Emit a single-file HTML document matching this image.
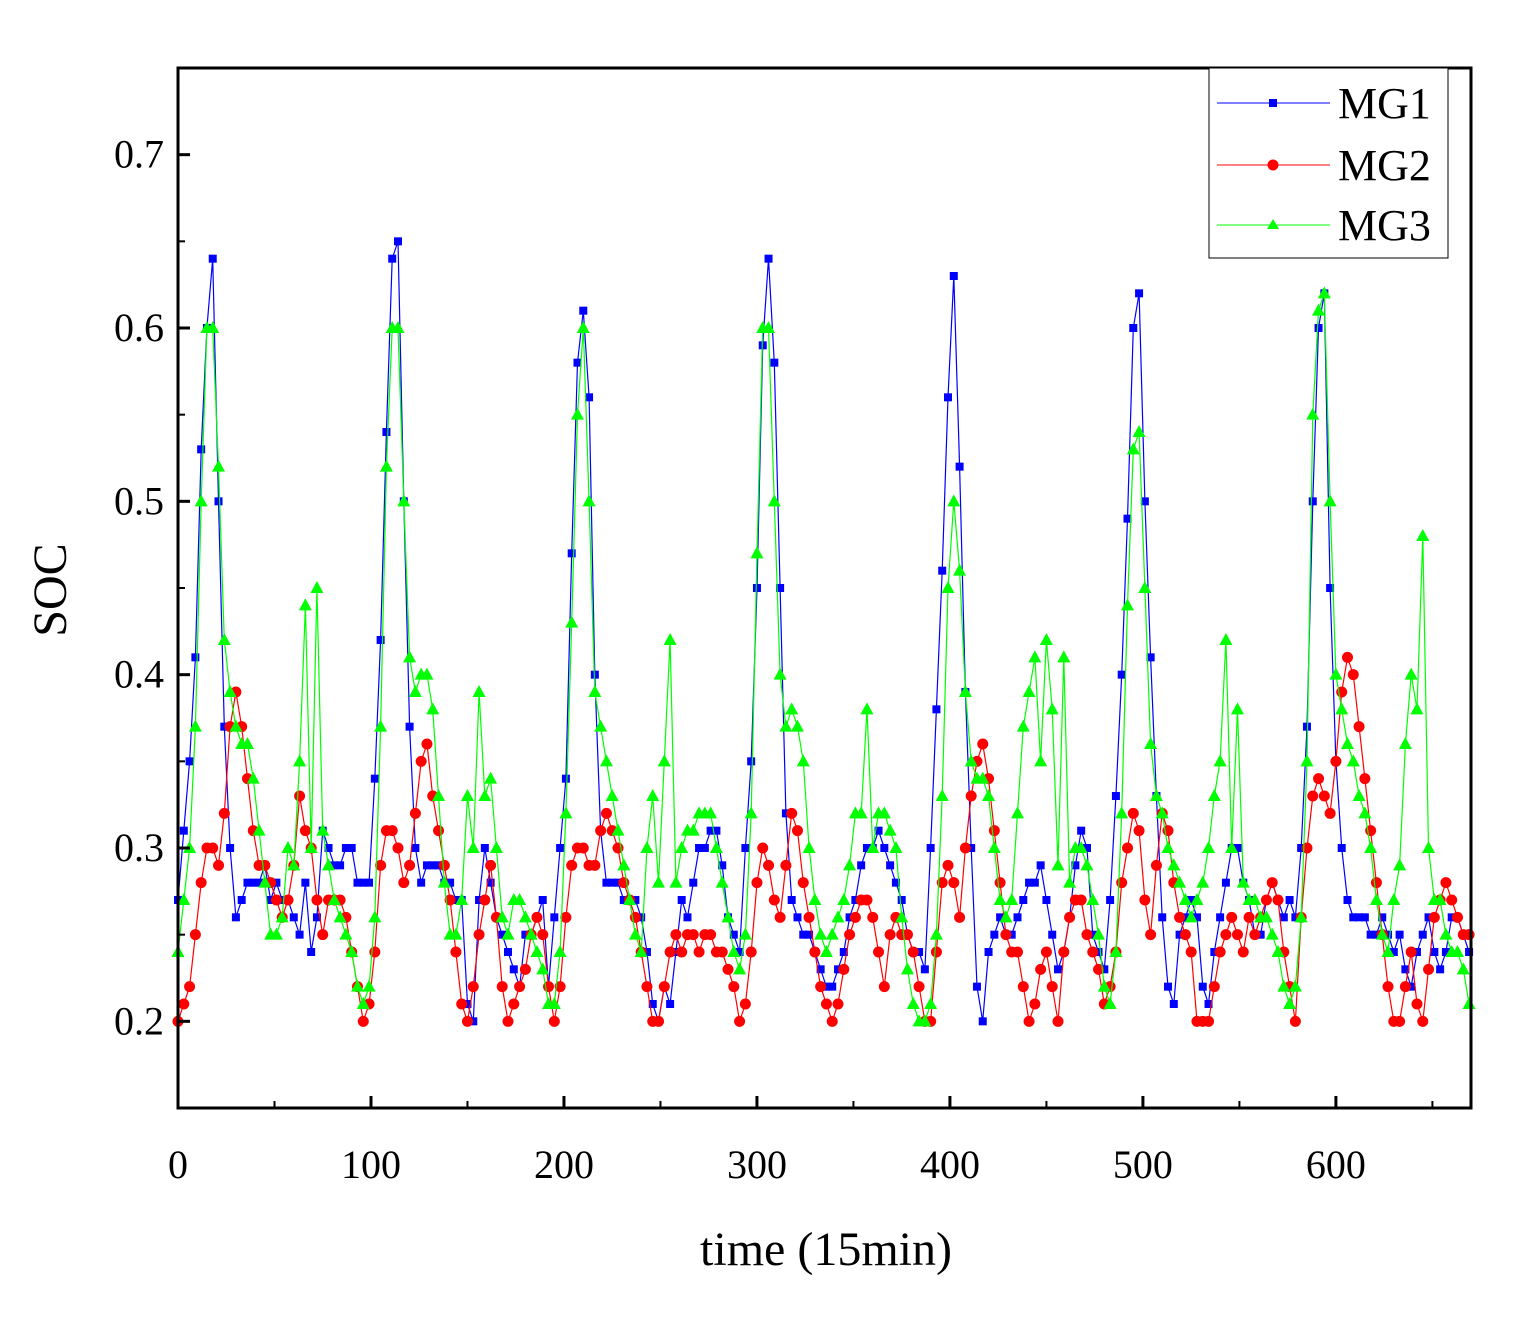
<!DOCTYPE html>
<html><head><meta charset="utf-8"><style>
body{margin:0;background:#fff;}
svg text{font-family:"Liberation Serif",serif;fill:#000;}
</style></head><body>
<svg id="chart" width="1516" height="1317" xmlns="http://www.w3.org/2000/svg">
<rect width="1516" height="1317" fill="#fff"/>
<g id="series"></g>
<g id="axes"></g>
<text x="826" y="1265" text-anchor="middle" font-size="48">time (15min)</text>
<text x="0" y="0" text-anchor="middle" font-size="48" transform="translate(66,590) rotate(-90)">SOC</text>
<g>
<rect x="1209" y="68" width="239" height="190" fill="#fff" stroke="#000" stroke-width="1"/>
<g><line x1="1217" y1="103" x2="1330" y2="103" stroke="#0000ff" stroke-width="1"/><rect x="1269" y="99" width="8" height="8" fill="#0000ff"/><text x="1338" y="118" font-size="44">MG1</text></g>
<g><line x1="1217" y1="165" x2="1330" y2="165" stroke="#ff0000" stroke-width="1"/><circle cx="1273" cy="165" r="5.5" fill="#ff0000"/><text x="1338" y="180" font-size="44">MG2</text></g>
<g><line x1="1217" y1="225" x2="1330" y2="225" stroke="#00ff00" stroke-width="1"/><polygon points="1273,219 1279,229 1267,229" fill="#00ff00"/><text x="1338" y="240" font-size="44">MG3</text></g>
</g>
</svg>
<script>
const xTicks=[0,100,200,300,400,500,600];
const yTicks=[0.2,0.3,0.4,0.5,0.6,0.7];
const yTickLabels=["0.2","0.3","0.4","0.5","0.6","0.7"];
const mg1=[0.27,0.31,0.35,0.41,0.53,0.6,0.64,0.5,0.37,0.3,0.26,0.27,0.28,0.28,0.28,0.29,0.27,0.28,0.27,0.27,0.26,0.25,0.28,0.24,0.26,0.31,0.3,0.29,0.29,0.3,0.3,0.28,
0.28,0.28,0.34,0.42,0.54,0.64,0.65,0.5,0.37,0.3,0.28,0.29,0.29,0.29,0.28,0.28,0.27,0.27,0.21,0.2,0.27,0.3,0.28,0.26,0.25,0.24,0.23,0.22,0.25,0.25,0.26,0.27,
0.22,0.26,0.3,0.34,0.47,0.58,0.61,0.56,0.4,0.31,0.28,0.28,0.28,0.27,0.27,0.27,0.26,0.24,0.21,0.2,0.22,0.21,0.24,0.27,0.26,0.28,0.3,0.3,0.31,0.31,0.29,0.26,
0.25,0.24,0.3,0.35,0.45,0.59,0.64,0.58,0.45,0.32,0.27,0.26,0.25,0.25,0.24,0.23,0.22,0.22,0.23,0.24,0.26,0.27,0.29,0.3,0.3,0.31,0.3,0.29,0.28,0.27,0.25,0.24,
0.24,0.23,0.3,0.38,0.46,0.56,0.63,0.52,0.39,0.3,0.22,0.2,0.24,0.25,0.26,0.25,0.25,0.26,0.27,0.28,0.28,0.29,0.27,0.25,0.23,0.24,0.26,0.29,0.31,0.3,0.25,0.24,
0.23,0.27,0.33,0.4,0.49,0.6,0.62,0.5,0.41,0.33,0.26,0.22,0.21,0.25,0.26,0.27,0.26,0.22,0.21,0.24,0.26,0.28,0.3,0.3,0.28,0.27,0.25,0.25,0.27,0.28,0.27,0.26,
0.27,0.26,0.3,0.37,0.5,0.6,0.62,0.45,0.35,0.3,0.27,0.26,0.26,0.26,0.25,0.25,0.26,0.25,0.24,0.25,0.23,0.22,0.24,0.25,0.26,0.24,0.23,0.24,0.26,0.26,0.25,0.24];
const mg2=[0.2,0.21,0.22,0.25,0.28,0.3,0.3,0.29,0.32,0.37,0.39,0.37,0.34,0.31,0.29,0.29,0.28,0.27,0.26,0.27,0.29,0.33,0.31,0.3,0.27,0.25,0.27,0.27,0.27,0.26,0.24,0.22,
0.2,0.21,0.24,0.29,0.31,0.31,0.3,0.28,0.29,0.32,0.35,0.36,0.33,0.31,0.29,0.27,0.24,0.21,0.2,0.22,0.25,0.27,0.29,0.26,0.22,0.2,0.21,0.22,0.23,0.25,0.26,0.25,
0.22,0.2,0.22,0.26,0.29,0.3,0.3,0.29,0.29,0.31,0.32,0.31,0.3,0.28,0.27,0.26,0.24,0.22,0.2,0.2,0.22,0.24,0.25,0.24,0.25,0.25,0.24,0.25,0.25,0.24,0.24,0.23,
0.22,0.2,0.21,0.24,0.28,0.3,0.29,0.27,0.26,0.29,0.32,0.31,0.28,0.26,0.24,0.22,0.21,0.2,0.21,0.23,0.25,0.26,0.27,0.27,0.26,0.24,0.22,0.25,0.26,0.25,0.25,0.24,
0.22,0.2,0.2,0.24,0.28,0.29,0.28,0.26,0.3,0.33,0.35,0.36,0.34,0.31,0.28,0.25,0.24,0.24,0.22,0.2,0.21,0.23,0.24,0.22,0.2,0.24,0.26,0.27,0.27,0.25,0.24,0.23,
0.21,0.22,0.24,0.28,0.3,0.32,0.31,0.27,0.25,0.29,0.32,0.31,0.28,0.26,0.25,0.24,0.2,0.2,0.2,0.22,0.24,0.25,0.26,0.25,0.24,0.26,0.25,0.26,0.27,0.28,0.27,0.24,
0.22,0.2,0.26,0.3,0.33,0.34,0.33,0.32,0.35,0.39,0.41,0.4,0.37,0.34,0.31,0.28,0.25,0.22,0.2,0.2,0.22,0.24,0.21,0.2,0.23,0.26,0.27,0.28,0.27,0.26,0.25,0.25];
const mg3=[0.24,0.27,0.3,0.37,0.5,0.6,0.6,0.52,0.42,0.39,0.37,0.36,0.36,0.34,0.31,0.28,0.25,0.25,0.26,0.3,0.29,0.35,0.44,0.3,0.45,0.31,0.29,0.27,0.26,0.25,0.24,0.22,
0.21,0.22,0.26,0.37,0.52,0.6,0.6,0.5,0.41,0.39,0.4,0.4,0.38,0.33,0.28,0.25,0.25,0.27,0.33,0.3,0.39,0.33,0.34,0.3,0.26,0.25,0.27,0.27,0.26,0.25,0.24,0.23,
0.21,0.21,0.24,0.32,0.43,0.55,0.6,0.5,0.39,0.37,0.35,0.33,0.31,0.29,0.27,0.25,0.24,0.3,0.33,0.28,0.35,0.42,0.28,0.3,0.31,0.31,0.32,0.32,0.32,0.3,0.28,0.26,
0.24,0.23,0.25,0.32,0.47,0.6,0.6,0.5,0.4,0.37,0.38,0.37,0.35,0.3,0.27,0.25,0.24,0.25,0.26,0.27,0.29,0.32,0.32,0.38,0.3,0.32,0.32,0.31,0.3,0.26,0.23,0.21,
0.2,0.2,0.21,0.25,0.33,0.45,0.5,0.46,0.39,0.35,0.34,0.34,0.33,0.3,0.27,0.26,0.27,0.32,0.37,0.39,0.41,0.35,0.42,0.38,0.29,0.41,0.28,0.3,0.3,0.29,0.27,0.25,
0.22,0.21,0.24,0.32,0.44,0.53,0.54,0.45,0.36,0.33,0.32,0.3,0.29,0.28,0.27,0.26,0.27,0.28,0.3,0.33,0.35,0.42,0.3,0.38,0.28,0.27,0.27,0.26,0.26,0.25,0.24,0.22,
0.21,0.22,0.26,0.35,0.55,0.61,0.62,0.5,0.4,0.38,0.36,0.35,0.33,0.32,0.3,0.27,0.25,0.24,0.27,0.29,0.36,0.4,0.38,0.48,0.3,0.27,0.27,0.25,0.24,0.24,0.23,0.21];
const times=[];for(let i=0;i<mg1.length;i++)times.push(i*3);

const X0=178,X1=1471,XMIN=0,XMAX=670,Y0=1108,Y1=68,YMIN=0.15,YMAX=0.75;
const sx=v=>X0+(v-XMIN)/(XMAX-XMIN)*(X1-X0);
const sy=v=>Y0-(v-YMIN)/(YMAX-YMIN)*(Y0-Y1);
const NS="http://www.w3.org/2000/svg";
function mk(tag,attrs,parent){const e=document.createElementNS(NS,tag);for(const k in attrs)e.setAttribute(k,attrs[k]);parent.appendChild(e);return e;}
const sg=document.getElementById('series'),ag=document.getElementById('axes');
function drawSeries(vals,color,shape,name){
  const g=mk('g',{},sg);
  
  
  const pts=vals.map((v,i)=>sx(times[i]).toFixed(1)+','+sy(v).toFixed(1)).join(' ');
  const pl=mk('polyline',{points:pts,fill:'none',stroke:color,'stroke-width':1.2},g);
  
  
  vals.forEach((v,i)=>{
    const x=sx(times[i]),y=sy(v);let m;
    if(shape==='sq')m=mk('rect',{x:x-4,y:y-4,width:8,height:8,fill:color},g);
    else if(shape==='c')m=mk('circle',{cx:x,cy:y,r:5.5,fill:color},g);
    else m=mk('polygon',{points:`${x},${y-7} ${x+6.5},${y+5} ${x-6.5},${y+5}`,fill:color},g);
    
    
  });
}
drawSeries(mg1,'#0000ff','sq','series-mg1');
drawSeries(mg2,'#ff0000','c','series-mg2');
drawSeries(mg3,'#00ff00','t','series-mg3');
const fr=mk('rect',{x:X0,y:Y1,width:X1-X0,height:Y0-Y1,fill:'none',stroke:'#000','stroke-width':3},ag);


xTicks.forEach(t=>{
  const x=sx(t);
  mk('line',{x1:x,y1:Y0,x2:x,y2:Y0-12,stroke:'#000','stroke-width':3},ag);
  const tx=mk('text',{x:x,y:Y0+70,'text-anchor':'middle','font-size':40},ag);
  tx.textContent=t;
  
  
});
for(let t=50;t<XMAX;t+=100){const x=sx(t);mk('line',{x1:x,y1:Y0,x2:x,y2:Y0-7,stroke:'#000','stroke-width':2},ag);}
yTicks.forEach((t,i)=>{
  const y=sy(t);
  mk('line',{x1:X0,y1:y,x2:X0+12,y2:y,stroke:'#000','stroke-width':3},ag);
  const tx=mk('text',{x:X0-14,y:y+13,'text-anchor':'end','font-size':40},ag);
  tx.textContent=yTickLabels[i];
  
  
});
for(let t=0.25;t<YMAX;t+=0.1){const y=sy(t);mk('line',{x1:X0,y1:y,x2:X0+7,y2:y,stroke:'#000','stroke-width':2},ag);}
</script>
</body></html>
